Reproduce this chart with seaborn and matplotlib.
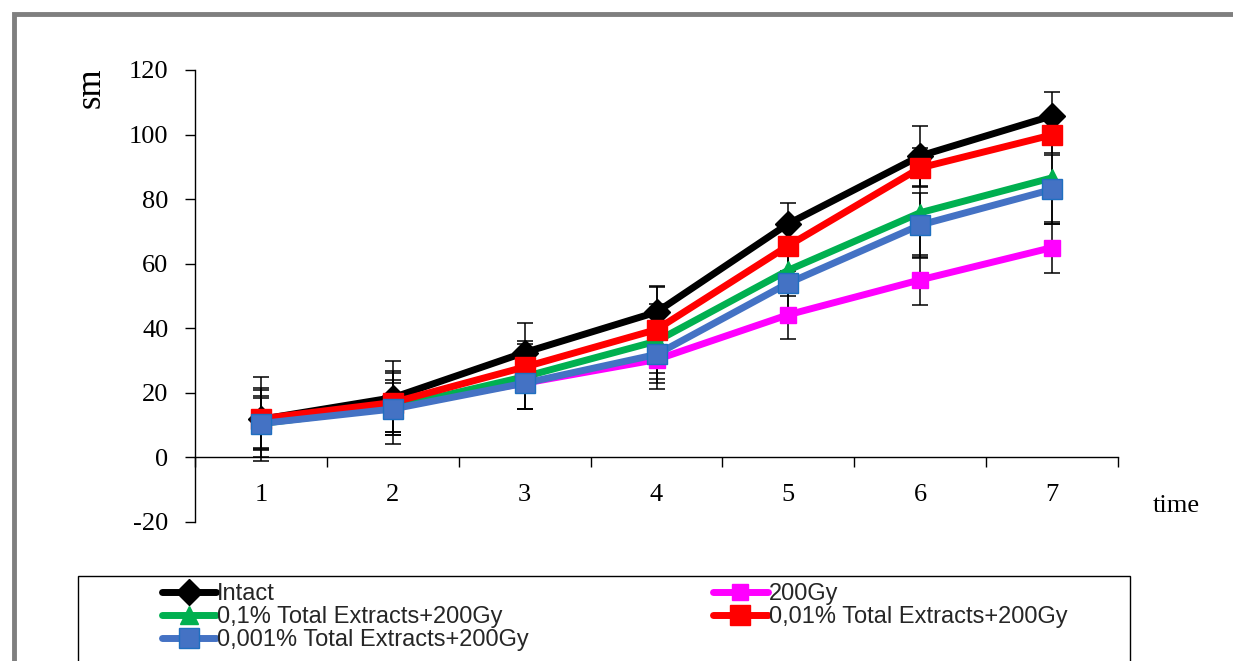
import numpy as np
import pandas as pd
import matplotlib
matplotlib.use("Agg")
import matplotlib.pyplot as plt
import matplotlib.patches as mpatches
import seaborn as sns

# --- data ---
time_points = [1, 2, 3, 4, 5, 6, 7]
series_names = ["Intact", "200Gy", "0,1% Total Extracts+200Gy",
                "0,01% Total Extracts+200Gy", "0,001% Total Extracts+200Gy"]
intact = [11.8, 18.5, 32.5, 45.0, 72.4, 93.4, 105.8]
gy200 = [11.0, 16.0, 23.0, 30.3, 44.2, 55.0, 65.0]
ext_01 = [10.5, 15.5, 25.0, 36.0, 58.0, 75.8, 86.6]
ext_001 = [12.0, 17.0, 28.0, 39.6, 65.6, 89.7, 99.9]
ext_0001 = [10.5, 15.0, 23.0, 31.9, 54.0, 72.0, 83.0]

err_intact = [13.0, 11.5, 9.0, 8.0, 6.5, 9.3, 7.4]
err_gy200 = [8.0, 8.0, 8.0, 9.0, 7.4, 7.7, 7.8]
err_01 = [10.5, 11.2, 10.0, 11.6, 8.0, 14.0, 14.2]
err_001 = [9.6, 9.0, 8.0, 13.3, 8.0, 6.0, 5.6]
err_0001 = [8.0, 8.0, 8.0, 9.0, 9.0, 10.0, 10.6]

values = [intact, gy200, ext_01, ext_001, ext_0001]
errors = [err_intact, err_gy200, err_01, err_001, err_0001]
colors = ["#000000", "#FF00FF", "#00B050", "#FF0000", "#4472C4"]
edge_colors = ["#000000", "#FF00FF", "#00B050", "#FF0000", "#1F6FC0"]
markers = ["D", "s", "^", "s", "s"]
msizes = [13, 11, 13, 14, 14]

df = pd.DataFrame({
    "time": np.tile(time_points, len(series_names)),
    "value": np.concatenate(values),
    "err": np.concatenate(errors),
    "series": np.repeat(series_names, len(time_points)),
})

sns.set_theme(style="white")
plt.rcParams["font.family"] = ["Liberation Serif", "DejaVu Serif"]
plt.rcParams["axes.unicode_minus"] = False

fig = plt.figure(figsize=(12.33, 6.61), dpi=100)
ax = fig.add_axes([195 / 1233, 1 - 522 / 661, (1118 - 195) / 1233, (522 - 70) / 661])

# error bars first (behind lines)
for name in series_names:
    d = df[df["series"] == name]
    ax.errorbar(d["time"], d["value"], yerr=d["err"], fmt="none",
                ecolor="black", elinewidth=1.1, capsize=6, capthick=1.1, zorder=2)

for name, c, ec, m, ms in zip(series_names, colors, edge_colors, markers, msizes):
    d = df[df["series"] == name]
    sns.lineplot(data=d, x="time", y="value", ax=ax, color=c, linewidth=5,
                 marker=m, markersize=ms, markeredgecolor=ec, markeredgewidth=1.0,
                 zorder=3, label=name)
ax.get_legend().remove()
hmap = {ln.get_label(): ln for ln in ax.get_lines() if ln.get_label() in series_names}

ax.set_xlim(0.5, 7.5)
ax.set_ylim(-20, 120)
ax.set_yticks(range(-20, 121, 20))
ax.set_xticks(time_points)
ax.set_xticks(np.arange(0.5, 7.6, 1.0), minor=True)
ax.set_xlabel("")
ax.set_ylabel("")

for side in ["top", "right"]:
    ax.spines[side].set_visible(False)
ax.spines["bottom"].set_position(("data", 0))
for side in ["left", "bottom"]:
    ax.spines[side].set_color("black")
    ax.spines[side].set_linewidth(1.0)

ax.tick_params(axis="y", direction="out", length=7, width=1, color="black",
               labelsize=19, pad=12, left=True)
ax.tick_params(axis="x", which="major", length=0, labelsize=19, pad=19, bottom=True)
ax.tick_params(axis="x", which="minor", direction="out", length=7, width=1,
               color="black", bottom=True)
for lab in ax.get_xticklabels() + ax.get_yticklabels():
    lab.set_color("black")

ax.text(-0.113, 0.96, "sm", transform=ax.transAxes, rotation=90,
        fontsize=25, ha="center", va="center", color="black")
ax.text(1.063, 0.035, "time", transform=ax.transAxes,
        fontsize=19, ha="center", va="center", color="black")

# outer gray frame (cropped by the figure edge)
fig.patches.append(mpatches.Rectangle((14 / 1233, -0.2), 1.2, 1 - 14 / 661 + 0.2,
                                      transform=fig.transFigure, fill=False,
                                      edgecolor="#7F7F7F", linewidth=3.5))
# legend box
fig.patches.append(mpatches.Rectangle((78 / 1233, -0.1), (1130 - 78) / 1233,
                                      1 - 576 / 661 + 0.1,
                                      transform=fig.transFigure, fill=False,
                                      edgecolor="black", linewidth=1.0))

order = [series_names[0], series_names[2], series_names[4],
         series_names[1], series_names[3]]
leg = fig.legend([hmap[n] for n in order], order, ncol=2,
                 loc="upper left", bbox_to_anchor=(150 / 1233, 1 - 571 / 661),
                 frameon=False, handlelength=2.3, handletextpad=0.05,
                 labelspacing=0.05, columnspacing=7.8, borderpad=0,
                 prop={"family": "Liberation Sans", "size": 17})

fig.savefig("out.png", dpi=100)
